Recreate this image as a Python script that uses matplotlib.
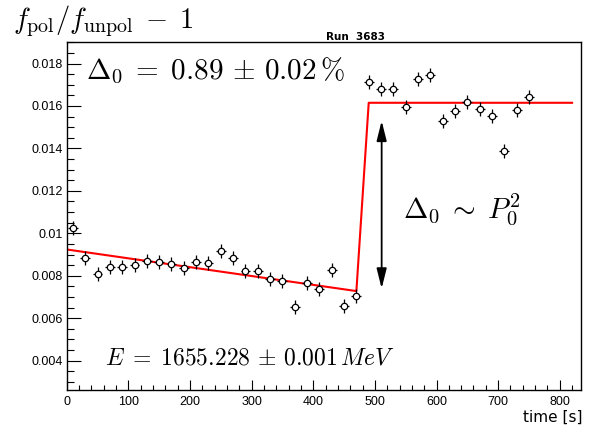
import matplotlib
matplotlib.use("Agg")
import matplotlib.pyplot as plt
from matplotlib.ticker import MultipleLocator, FormatStrFormatter

# Dades llegides del gràfic (temps en s, f_pol/f_unpol - 1)
time = [10, 30, 50, 70, 90, 110, 130, 150, 170, 190, 210, 230, 250, 270, 290, 310,
        330, 350, 370, 390, 410, 430, 450, 470, 490, 510, 530, 550, 570, 590, 610,
        630, 650, 670, 690, 710, 730, 750]
ratio = [0.01023, 0.00885, 0.00808, 0.00842, 0.00842, 0.00850, 0.00871, 0.00866,
         0.00855, 0.00835, 0.00863, 0.00861, 0.00918, 0.00882, 0.00821, 0.00821,
         0.00783, 0.00774, 0.00654, 0.00767, 0.00736, 0.00827, 0.00659, 0.00704,
         0.01711, 0.01679, 0.01678, 0.01596, 0.01725, 0.01744, 0.01528, 0.01574,
         0.01621, 0.01585, 0.01552, 0.01390, 0.01583, 0.01641]
time_err = [8] * len(time)
ratio_err = [0.00033] * len(ratio)

# Funció d'ajust (recta + salt + constant)
fit_time = [0, 470, 490, 820]
fit_ratio = [0.00924, 0.00728, 0.01615, 0.01615]

# Fletxa del salt
arrow_time = 511
arrow_low = 0.0074
arrow_high = 0.0153

plt.rcParams['mathtext.fontset'] = 'cm'
plt.rcParams['font.family'] = 'Liberation Sans'

fig = plt.figure(figsize=(5.93, 4.28), dpi=100)
ax = fig.add_axes([0.1125, 0.0888, 0.8668, 0.8124])

ax.plot(fit_time, fit_ratio, color='red', linewidth=1.5, zorder=2)
ax.errorbar(time, ratio, xerr=time_err, yerr=ratio_err, fmt='o', color='black',
            markerfacecolor='white', markeredgecolor='black', markersize=4.6,
            markeredgewidth=0.9, elinewidth=0.9, capsize=0, zorder=3)

ax.annotate('', xy=(arrow_time, arrow_low), xytext=(arrow_time, arrow_high),
            arrowprops=dict(arrowstyle='<|-|>,head_length=1.2,head_width=0.3',
                            color='black', lw=1.3, mutation_scale=10,
                            shrinkA=0, shrinkB=0))

# Textos (espais afegits per imitar el LaTeX original)
ax.text(32, 0.01726, r'$\Delta_0\;=\;0.89\,\pm\,0.02\,\%$', fontsize=21, va='baseline')
ax.text(545, 0.01076, r'$\Delta_0\;\sim\;P_0^2$', fontsize=21, va='baseline')
ax.text(62, 0.00383, r'$E\;=\;1655.228\,\pm\,0.001\,MeV$', fontsize=17, va='baseline')

fig.text(0.0214, 0.934, r'$f_{\mathrm{pol}}/f_{\mathrm{unpol}}\;-\;1$', fontsize=20.5, va='baseline')
fig.text(0.6, 0.913, 'Run  3683', fontsize=7.5, fontweight='bold', ha='center', va='center',
         family='DejaVu Sans')
fig.text(0.982, 0.025, 'time [s]', fontsize=11, ha='right', va='center', family='DejaVu Sans')

# Eixos
ax.set_xlim(0, 834)
ax.set_ylim(0.00262, 0.0190)
ax.xaxis.set_major_locator(MultipleLocator(100))
ax.xaxis.set_minor_locator(MultipleLocator(20))
ax.yaxis.set_major_locator(MultipleLocator(0.002))
ax.yaxis.set_minor_locator(MultipleLocator(0.0005))
ax.yaxis.set_major_formatter(FormatStrFormatter('%g'))
ax.tick_params(axis='both', which='both', direction='in', labelsize=9)
ax.tick_params(axis='y', which='major', length=10, width=0.8, pad=3)
ax.tick_params(axis='y', which='minor', length=5, width=0.8)
ax.tick_params(axis='x', which='major', length=7, width=0.8, pad=4)
ax.tick_params(axis='x', which='minor', length=3.5, width=0.8)
for s in ax.spines.values():
    s.set_linewidth(1.0)

fig.savefig('out.png', dpi=100)
